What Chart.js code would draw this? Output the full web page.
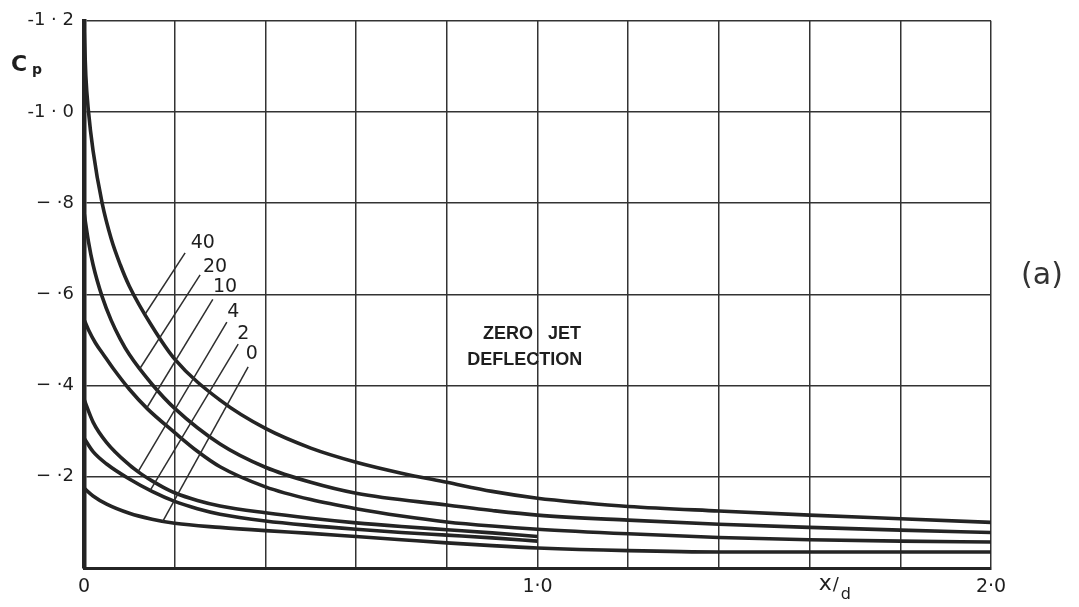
<!DOCTYPE html>
<html>
<head>
<meta charset="utf-8">
<script src="https://cdn.jsdelivr.net/npm/chart.js@4.4.1/dist/chart.umd.min.js"></script>
<style>
html,body{margin:0;padding:0;background:#ffffff;}
#wrap{width:1079px;height:607px;position:relative;}
</style>
</head>
<body>
<div id="wrap"><canvas id="c" width="1079" height="607"></canvas></div>
<script>
// ---- data ----
const seriesNames = ['40', '20', '10', '4', '2', '0'];

const x40  = [0, 0.004, 0.01, 0.02, 0.04, 0.06, 0.08, 0.1, 0.15, 0.2, 0.3, 0.4, 0.5, 0.6, 0.7, 0.8, 0.9, 1.0, 1.1, 1.2, 1.4, 1.6, 1.8, 2.0];
const cp40 = [-1.19, -1.08, -1.0, -0.915, -0.80, -0.722, -0.665, -0.618, -0.530, -0.458, -0.368, -0.306, -0.263, -0.232, -0.208, -0.188, -0.168, -0.153, -0.143, -0.135, -0.125, -0.116, -0.108, -0.100];

const x20  = [0, 0.01, 0.02, 0.04, 0.06, 0.08, 0.1, 0.15, 0.2, 0.3, 0.4, 0.5, 0.6, 0.8, 0.9, 1.0, 1.2, 1.4, 1.6, 1.8, 2.0];
const cp20 = [-0.78, -0.715, -0.665, -0.595, -0.543, -0.502, -0.468, -0.403, -0.350, -0.272, -0.221, -0.188, -0.164, -0.138, -0.126, -0.116, -0.105, -0.096, -0.089, -0.083, -0.078];

const x10  = [0, 0.01, 0.025, 0.045, 0.064, 0.1, 0.14, 0.2, 0.25, 0.3, 0.4, 0.5, 0.6, 0.7, 0.8, 0.9, 1.0, 1.2, 1.4, 1.6, 1.8, 2.0];
const cp10 = [-0.545, -0.522, -0.494, -0.465, -0.438, -0.392, -0.349, -0.297, -0.256, -0.222, -0.178, -0.150, -0.130, -0.114, -0.101, -0.092, -0.085, -0.075, -0.067, -0.062, -0.059, -0.057];

const x4   = [0, 0.02, 0.05, 0.1, 0.125, 0.15, 0.175, 0.2, 0.25, 0.3, 0.4, 0.5, 0.6, 0.7, 0.8, 0.9, 1.0];
const cp4  = [-0.37, -0.32, -0.275, -0.226, -0.207, -0.191, -0.177, -0.165, -0.148, -0.136, -0.121, -0.109, -0.099, -0.091, -0.084, -0.077, -0.069];

const x2   = [0, 0.02, 0.05, 0.1, 0.15, 0.2, 0.25, 0.3, 0.4, 0.5, 0.6, 0.7, 0.8, 0.9, 1.0];
const cp2  = [-0.285, -0.255, -0.228, -0.195, -0.168, -0.146, -0.130, -0.118, -0.103, -0.093, -0.085, -0.078, -0.072, -0.066, -0.059];

const x0   = [0, 0.02, 0.05, 0.1, 0.15, 0.2, 0.3, 0.4, 0.5, 0.6, 0.7, 0.8, 0.9, 1.0, 1.2, 1.4, 1.6, 1.8, 2.0];
const cp0  = [-0.175, -0.158, -0.14, -0.12, -0.107, -0.098, -0.089, -0.082, -0.076, -0.069, -0.062, -0.055, -0.049, -0.044, -0.038, -0.035, -0.035, -0.035, -0.035];

const yTickValues = [-1.2, -1.0, -0.8, -0.6, -0.4, -0.2];
const yTickLabels = ['-1 · 2', '-1 · 0', '− ·8', '− ·6', '− ·4', '− ·2'];
const xTickValues = [0, 1, 2];
const xTickLabels = ['0', '1·0', '2·0'];

// leader lines for curve labels (data units): label, label anchor, line start, line end
const leaderText = ['40', '20', '10', '4', '2', '0'];
const leaderAt   = [[0.262, -0.713], [0.289, -0.659], [0.311, -0.615], [0.329, -0.561], [0.351, -0.513], [0.370, -0.470]];
const leaderFrom = [[0.223, -0.691], [0.256, -0.643], [0.284, -0.589], [0.315, -0.539], [0.340, -0.491], [0.362, -0.441]];
const leaderTo   = [[0.135, -0.557], [0.123, -0.437], [0.139, -0.352], [0.119, -0.211], [0.146, -0.170], [0.174, -0.103]];

const noteLines = ['ZERO   JET', 'DEFLECTION'];
const noteAt    = [[0.988, -0.513], [0.972, -0.457]];

// ---- build chart ----
const xs = [x40, x20, x10, x4, x2, x0];
const ys = [cp40, cp20, cp10, cp4, cp2, cp0];
const INK = '#242424';

const datasets = seriesNames.map((n, i) => ({
  label: n,
  data: xs[i].map((xv, k) => ({x: xv, y: ys[i][k]})),
  borderColor: INK,
  borderWidth: 3.6,
  pointRadius: 0,
  cubicInterpolationMode: 'monotone',
  fill: false
}));

function labelFor(values, labels, v) {
  for (let i = 0; i < values.length; i++) if (Math.abs(values[i] - v) < 1e-6) return labels[i];
  return '';
}

const annot = {
  id: 'annot',
  afterDatasetsDraw(chart) {
    const {ctx, scales: {x, y}, chartArea} = chart;
    ctx.save();
    ctx.strokeStyle = '#2e2e2e';
    ctx.lineWidth = 1.5;
    for (let i = 0; i < leaderText.length; i++) {
      ctx.beginPath();
      ctx.moveTo(x.getPixelForValue(leaderFrom[i][0]), y.getPixelForValue(leaderFrom[i][1]));
      ctx.lineTo(x.getPixelForValue(leaderTo[i][0]), y.getPixelForValue(leaderTo[i][1]));
      ctx.stroke();
    }
    ctx.fillStyle = '#1e1e1e';
    ctx.textAlign = 'center';
    ctx.textBaseline = 'middle';
    ctx.font = '19px "DejaVu Sans"';
    for (let i = 0; i < leaderText.length; i++) {
      ctx.fillText(leaderText[i], x.getPixelForValue(leaderAt[i][0]), y.getPixelForValue(leaderAt[i][1]));
    }
    ctx.font = 'bold 18px "Liberation Sans"';
    for (let i = 0; i < noteLines.length; i++) {
      ctx.fillText(noteLines[i], x.getPixelForValue(noteAt[i][0]), y.getPixelForValue(noteAt[i][1]));
    }
    // axis titles
    ctx.textAlign = 'left';
    ctx.font = 'bold 22px "DejaVu Sans"';
    ctx.fillText('C', chartArea.left - 73, chartArea.top + 44);
    ctx.font = 'bold 14px "DejaVu Sans"';
    ctx.fillText('p', chartArea.left - 52, chartArea.top + 50);
    const tx = x.getPixelForValue(1.62);
    ctx.font = '22px "DejaVu Sans"';
    ctx.fillText('x', tx, chartArea.bottom + 16);
    ctx.font = '18px "DejaVu Sans"';
    ctx.fillText('/', tx + 14, chartArea.bottom + 17);
    ctx.font = '16px "DejaVu Sans"';
    ctx.fillText('d', tx + 22, chartArea.bottom + 27);
    // panel tag
    ctx.font = '30px "DejaVu Sans"';
    ctx.fillStyle = '#333';
    ctx.textAlign = 'center';
    ctx.fillText('(a)', chartArea.right + 51, y.getPixelForValue(-0.64));
    ctx.restore();
  }
};

new Chart(document.getElementById('c'), {
  type: 'line',
  data: {datasets},
  options: {
    responsive: false,
    animation: false,
    devicePixelRatio: 1,
    layout: {padding: {left: 0, right: 88, top: 18, bottom: 0}},
    plugins: {legend: {display: false}, tooltip: {enabled: false}},
    scales: {
      x: {
        type: 'linear',
        min: 0, max: 2,
        afterFit: s => { s.height = 39; },
        ticks: {
          stepSize: 0.2,
          autoSkip: false,
          maxRotation: 0,
          padding: 8,
          color: '#1e1e1e',
          font: {family: 'DejaVu Sans', size: 19},
          callback: v => labelFor(xTickValues, xTickLabels, v)
        },
        grid: {color: '#333', lineWidth: 1.5, drawTicks: false},
        border: {display: true, color: INK, width: 3}
      },
      y: {
        type: 'linear',
        min: -1.2, max: 0,
        reverse: true,
        afterFit: s => { s.width = 84; },
        ticks: {
          stepSize: 0.2,
          autoSkip: false,
          padding: 10,
          color: '#1e1e1e',
          font: {family: 'DejaVu Sans', size: 18},
          callback: v => labelFor(yTickValues, yTickLabels, v)
        },
        grid: {color: '#333', lineWidth: 1.5, drawTicks: false},
        border: {display: true, color: INK, width: 4.5}
      }
    }
  },
  plugins: [annot]
});
</script>
</body>
</html>
